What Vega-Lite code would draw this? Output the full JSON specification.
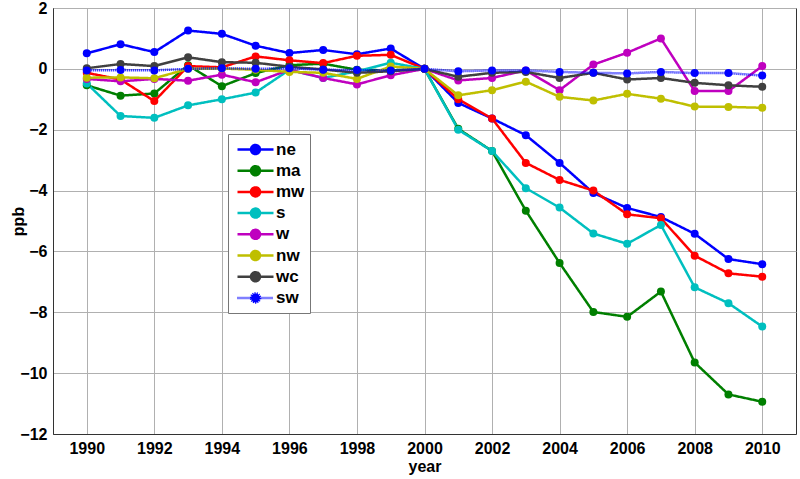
{
  "$schema": "https://vega.github.io/schema/vega-lite/v6.json",
  "width": 743,
  "height": 426,
  "autosize": {"type": "none"},
  "padding": {"left": 53, "top": 8, "right": 4, "bottom": 45},
  "background": "white",
  "config": {
    "view": {"stroke": "#333333", "strokeWidth": 1},
    "font": "Liberation Sans",
    "axis": {
      "labelFont": "Liberation Sans",
      "labelFontSize": 16,
      "labelFontWeight": "bold",
      "labelColor": "black",
      "titleFont": "Liberation Sans",
      "titleFontSize": 16,
      "titleFontWeight": "bold",
      "titleColor": "black",
      "gridColor": "#b0b0b0",
      "gridOpacity": 1,
      "gridWidth": 1,
      "domainColor": "#333333",
      "ticks": false
    }
  },
  "data": {
    "values": [
      {"year":1990,"region":"ne","ppb":0.51},{"year":1991,"region":"ne","ppb":0.81},{"year":1992,"region":"ne","ppb":0.55},{"year":1993,"region":"ne","ppb":1.26},{"year":1994,"region":"ne","ppb":1.15},{"year":1995,"region":"ne","ppb":0.76},{"year":1996,"region":"ne","ppb":0.52},{"year":1997,"region":"ne","ppb":0.62},{"year":1998,"region":"ne","ppb":0.48},{"year":1999,"region":"ne","ppb":0.67},{"year":2000,"region":"ne","ppb":0},{"year":2001,"region":"ne","ppb":-1.12},{"year":2002,"region":"ne","ppb":-1.63},{"year":2003,"region":"ne","ppb":-2.18},{"year":2004,"region":"ne","ppb":-3.09},{"year":2005,"region":"ne","ppb":-4.08},{"year":2006,"region":"ne","ppb":-4.57},{"year":2007,"region":"ne","ppb":-4.87},{"year":2008,"region":"ne","ppb":-5.42},{"year":2009,"region":"ne","ppb":-6.25},{"year":2010,"region":"ne","ppb":-6.42},
      {"year":1990,"region":"ma","ppb":-0.54},{"year":1991,"region":"ma","ppb":-0.88},{"year":1992,"region":"ma","ppb":-0.81},{"year":1993,"region":"ma","ppb":0.12},{"year":1994,"region":"ma","ppb":-0.57},{"year":1995,"region":"ma","ppb":-0.14},{"year":1996,"region":"ma","ppb":0.12},{"year":1997,"region":"ma","ppb":0.17},{"year":1998,"region":"ma","ppb":-0.03},{"year":1999,"region":"ma","ppb":-0.05},{"year":2000,"region":"ma","ppb":0},{"year":2001,"region":"ma","ppb":-1.97},{"year":2002,"region":"ma","ppb":-2.7},{"year":2003,"region":"ma","ppb":-4.66},{"year":2004,"region":"ma","ppb":-6.38},{"year":2005,"region":"ma","ppb":-7.99},{"year":2006,"region":"ma","ppb":-8.15},{"year":2007,"region":"ma","ppb":-7.32},{"year":2008,"region":"ma","ppb":-9.65},{"year":2009,"region":"ma","ppb":-10.7},{"year":2010,"region":"ma","ppb":-10.94},
      {"year":1990,"region":"mw","ppb":-0.13},{"year":1991,"region":"mw","ppb":-0.35},{"year":1992,"region":"mw","ppb":-1.06},{"year":1993,"region":"mw","ppb":0.09},{"year":1994,"region":"mw","ppb":0.05},{"year":1995,"region":"mw","ppb":0.41},{"year":1996,"region":"mw","ppb":0.28},{"year":1997,"region":"mw","ppb":0.19},{"year":1998,"region":"mw","ppb":0.43},{"year":1999,"region":"mw","ppb":0.46},{"year":2000,"region":"mw","ppb":0},{"year":2001,"region":"mw","ppb":-1.0},{"year":2002,"region":"mw","ppb":-1.63},{"year":2003,"region":"mw","ppb":-3.09},{"year":2004,"region":"mw","ppb":-3.65},{"year":2005,"region":"mw","ppb":-4.0},{"year":2006,"region":"mw","ppb":-4.78},{"year":2007,"region":"mw","ppb":-4.91},{"year":2008,"region":"mw","ppb":-6.14},{"year":2009,"region":"mw","ppb":-6.72},{"year":2010,"region":"mw","ppb":-6.83},
      {"year":1990,"region":"s","ppb":-0.48},{"year":1991,"region":"s","ppb":-1.55},{"year":1992,"region":"s","ppb":-1.61},{"year":1993,"region":"s","ppb":-1.2},{"year":1994,"region":"s","ppb":-1.0},{"year":1995,"region":"s","ppb":-0.78},{"year":1996,"region":"s","ppb":-0.03},{"year":1997,"region":"s","ppb":-0.3},{"year":1998,"region":"s","ppb":-0.08},{"year":1999,"region":"s","ppb":0.2},{"year":2000,"region":"s","ppb":0},{"year":2001,"region":"s","ppb":-2.0},{"year":2002,"region":"s","ppb":-2.7},{"year":2003,"region":"s","ppb":-3.92},{"year":2004,"region":"s","ppb":-4.56},{"year":2005,"region":"s","ppb":-5.41},{"year":2006,"region":"s","ppb":-5.75},{"year":2007,"region":"s","ppb":-5.13},{"year":2008,"region":"s","ppb":-7.18},{"year":2009,"region":"s","ppb":-7.7},{"year":2010,"region":"s","ppb":-8.47},
      {"year":1990,"region":"w","ppb":-0.33},{"year":1991,"region":"w","ppb":-0.41},{"year":1992,"region":"w","ppb":-0.33},{"year":1993,"region":"w","ppb":-0.39},{"year":1994,"region":"w","ppb":-0.19},{"year":1995,"region":"w","ppb":-0.44},{"year":1996,"region":"w","ppb":-0.03},{"year":1997,"region":"w","ppb":-0.3},{"year":1998,"region":"w","ppb":-0.51},{"year":1999,"region":"w","ppb":-0.21},{"year":2000,"region":"w","ppb":0},{"year":2001,"region":"w","ppb":-0.38},{"year":2002,"region":"w","ppb":-0.3},{"year":2003,"region":"w","ppb":-0.05},{"year":2004,"region":"w","ppb":-0.7},{"year":2005,"region":"w","ppb":0.14},{"year":2006,"region":"w","ppb":0.53},{"year":2007,"region":"w","ppb":1.0},{"year":2008,"region":"w","ppb":-0.73},{"year":2009,"region":"w","ppb":-0.73},{"year":2010,"region":"w","ppb":0.09},
      {"year":1990,"region":"nw","ppb":-0.29},{"year":1991,"region":"nw","ppb":-0.28},{"year":1992,"region":"nw","ppb":-0.31},{"year":1993,"region":"nw","ppb":0.0},{"year":1994,"region":"nw","ppb":0.01},{"year":1995,"region":"nw","ppb":-0.03},{"year":1996,"region":"nw","ppb":-0.1},{"year":1997,"region":"nw","ppb":-0.13},{"year":1998,"region":"nw","ppb":-0.33},{"year":1999,"region":"nw","ppb":0.08},{"year":2000,"region":"nw","ppb":0},{"year":2001,"region":"nw","ppb":-0.87},{"year":2002,"region":"nw","ppb":-0.7},{"year":2003,"region":"nw","ppb":-0.42},{"year":2004,"region":"nw","ppb":-0.92},{"year":2005,"region":"nw","ppb":-1.04},{"year":2006,"region":"nw","ppb":-0.82},{"year":2007,"region":"nw","ppb":-0.98},{"year":2008,"region":"nw","ppb":-1.24},{"year":2009,"region":"nw","ppb":-1.25},{"year":2010,"region":"nw","ppb":-1.28},
      {"year":1990,"region":"wc","ppb":0.02},{"year":1991,"region":"wc","ppb":0.16},{"year":1992,"region":"wc","ppb":0.09},{"year":1993,"region":"wc","ppb":0.38},{"year":1994,"region":"wc","ppb":0.22},{"year":1995,"region":"wc","ppb":0.2},{"year":1996,"region":"wc","ppb":0.07},{"year":1997,"region":"wc","ppb":-0.02},{"year":1998,"region":"wc","ppb":-0.13},{"year":1999,"region":"wc","ppb":-0.08},{"year":2000,"region":"wc","ppb":0},{"year":2001,"region":"wc","ppb":-0.26},{"year":2002,"region":"wc","ppb":-0.13},{"year":2003,"region":"wc","ppb":-0.1},{"year":2004,"region":"wc","ppb":-0.3},{"year":2005,"region":"wc","ppb":-0.13},{"year":2006,"region":"wc","ppb":-0.35},{"year":2007,"region":"wc","ppb":-0.3},{"year":2008,"region":"wc","ppb":-0.46},{"year":2009,"region":"wc","ppb":-0.54},{"year":2010,"region":"wc","ppb":-0.59},
      {"year":1990,"region":"sw","ppb":-0.05},{"year":1991,"region":"sw","ppb":-0.04},{"year":1992,"region":"sw","ppb":-0.05},{"year":1993,"region":"sw","ppb":0.0},{"year":1994,"region":"sw","ppb":0.02},{"year":1995,"region":"sw","ppb":0.0},{"year":1996,"region":"sw","ppb":0.02},{"year":1997,"region":"sw","ppb":-0.03},{"year":1998,"region":"sw","ppb":-0.04},{"year":1999,"region":"sw","ppb":-0.05},{"year":2000,"region":"sw","ppb":0},{"year":2001,"region":"sw","ppb":-0.08},{"year":2002,"region":"sw","ppb":-0.05},{"year":2003,"region":"sw","ppb":-0.05},{"year":2004,"region":"sw","ppb":-0.1},{"year":2005,"region":"sw","ppb":-0.13},{"year":2006,"region":"sw","ppb":-0.15},{"year":2007,"region":"sw","ppb":-0.1},{"year":2008,"region":"sw","ppb":-0.14},{"year":2009,"region":"sw","ppb":-0.14},{"year":2010,"region":"sw","ppb":-0.22}
    ]
  },
  "mark": {"type": "line", "strokeWidth": 2.5, "point": {"filled": true, "size": 64, "opacity": 1}},
  "encoding": {
    "x": {
      "field": "year", "type": "quantitative", "title": "year",
      "scale": {"domain": [1989, 2011], "nice": false, "zero": false},
      "axis": {"values": [1990,1992,1994,1996,1998,2000,2002,2004,2006,2008,2010], "format": "d", "labelPadding": 6, "titlePadding": 2}
    },
    "y": {
      "field": "ppb", "type": "quantitative", "title": "ppb",
      "scale": {"domain": [-12, 2], "nice": false, "zero": false},
      "axis": {"values": [2,0,-2,-4,-6,-8,-10,-12], "labelPadding": 6, "titleX": -30, "titleY": 213, "titleAngle": -90, "titleAlign": "center", "titleBaseline": "alphabetic"}
    },
    "color": {
      "field": "region", "type": "nominal",
      "scale": {
        "domain": ["ne","ma","mw","s","w","nw","wc","sw"],
        "range": ["#0000ff","#007f00","#ff0000","#00bfbf","#bf00bf","#bfbf00","#404040","#0000ff"]
      },
      "legend": {
        "orient": "none", "legendX": 175, "legendY": 126, "title": null,
        "symbolType": "M-2,0H2M-0.5,0A0.5,0.5 0 1,1 0.5,0A0.5,0.5 0 1,1 -0.5,0Z",
        "symbolSize": 324, "symbolStrokeWidth": 2.5, "symbolOffset": 12,
        "labelFont": "Liberation Sans", "labelFontSize": 17, "labelFontWeight": "bold", "labelColor": "black",
        "labelExpr": "datum.label === 's' || datum.label === 'w' ? '\u00a0' + datum.label : datum.label",
        "labelOffset": 10, "rowPadding": 1.2, "padding": 5,
        "strokeColor": "#777777", "fillColor": "white",
        "encode": {
          "symbols": {"update": {"fill": {"scale": "color", "field": "value"}, "fillOpacity": {"value": 1}, "strokeDash": {"signal": "datum.value === 'sw' ? [2,1] : []"}}}
        }
      }
    },
    "strokeDash": {
      "field": "region", "type": "nominal",
      "scale": {"domain": ["ne","ma","mw","s","w","nw","wc","sw"], "range": [[1,0],[1,0],[1,0],[1,0],[1,0],[1,0],[1,0],[1,1]]},
      "legend": null
    }
  }
}
